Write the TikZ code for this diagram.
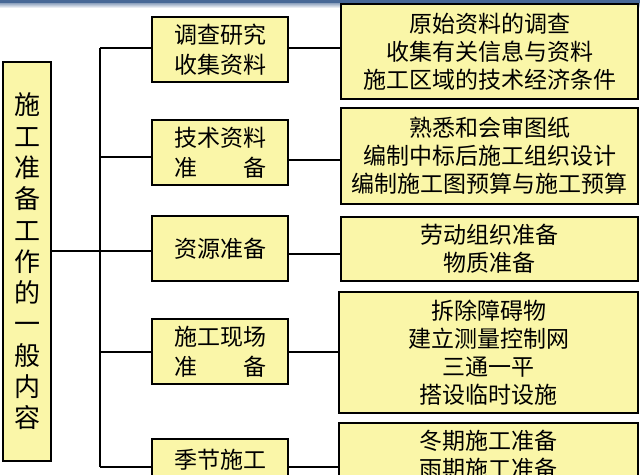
\documentclass[tikz,border=0pt]{standalone}
\usepackage{fontspec}
\setmainfont{Noto Sans CJK SC}
\definecolor{boxy}{RGB}{250,246,168}
\definecolor{topbar}{RGB}{72,104,150}
\begin{document}
\begin{tikzpicture}[x=1pt,y=-1pt,
  box/.style={draw=black, line width=2pt, fill=boxy, inner sep=0pt, anchor=north west, align=center},
  midtxt/.style={font=\fontsize{23}{30}\selectfont},
  righttxt/.style={font=\fontsize{23}{28}\selectfont},
  conn/.style={line width=2pt, draw=black}]
\clip (0,0) rectangle (640,474);
\fill[white] (0,0) rectangle (640,474);
\shade[top color=topbar, bottom color=white] (0,0) rectangle (640,8);
\fill[topbar] (0,0) rectangle (640,3);

% left box
\node[box, minimum width=48pt, minimum height=399pt, font=\fontsize{26}{31.3}\selectfont] (L) at (2,61)
  {施\\工\\准\\备\\工\\作\\的\\一\\般\\内\\容};

% middle boxes
\node[box, midtxt, minimum width=136pt, minimum height=65pt] (M1) at (151,16) {调查研究\\收集资料};
\node[box, midtxt, minimum width=136pt, minimum height=65pt] (M2) at (151,119) {技术资料\\\makebox[92pt]{准\hfill 备}};
\node[box, midtxt, minimum width=136pt, minimum height=65pt] (M3) at (151,215) {资源准备};
\node[box, midtxt, minimum width=136pt, minimum height=65pt] (M4) at (151,318) {施工现场\\\makebox[92pt]{准\hfill 备}};
\node[box, midtxt, minimum width=136pt, minimum height=42pt] (M5) at (151,438) {季节施工};

% right boxes
\node[box, righttxt, minimum width=297pt, minimum height=95pt] (R1) at (340,3) {原始资料的调查\\收集有关信息与资料\\施工区域的技术经济条件};
\node[box, righttxt, minimum width=297pt, minimum height=96pt] (R2) at (340,107) {熟悉和会审图纸\\编制中标后施工组织设计\\编制施工图预算与施工预算};
\node[box, righttxt, minimum width=297pt, minimum height=64pt] (R3) at (340,216) {劳动组织准备\\物质准备};
\node[box, righttxt, minimum width=299pt, minimum height=121pt] (R4) at (338,291) {拆除障碍物\\建立测量控制网\\三通一平\\搭设临时设施};
\node[box, righttxt, minimum width=299pt, minimum height=64pt] (R5) at (338,422) {冬期施工准备\\雨期施工准备};

% trunk coordinates
\coordinate (T1) at (100,48);
\coordinate (T2) at (100,157);
\coordinate (T3) at (100,251);
\coordinate (T4) at (100,352);
\coordinate (T5) at (100,467);
\coordinate (S1) at (310,48);
\coordinate (S2) at (310,160);
\coordinate (S3) at (310,254);
\coordinate (S4) at (310,352);
\coordinate (S5) at (310,467);

\draw[conn] (T1) -- (T5);
\draw[conn] (L.east |- T3) -- (T3);
\foreach \i in {1,...,5} {
  \draw[conn] (T\i) -- (M\i.west |- T\i);
  \draw[conn] (M\i.east |- S\i) -- (R\i.west |- S\i);
}
\end{tikzpicture}
\end{document}
